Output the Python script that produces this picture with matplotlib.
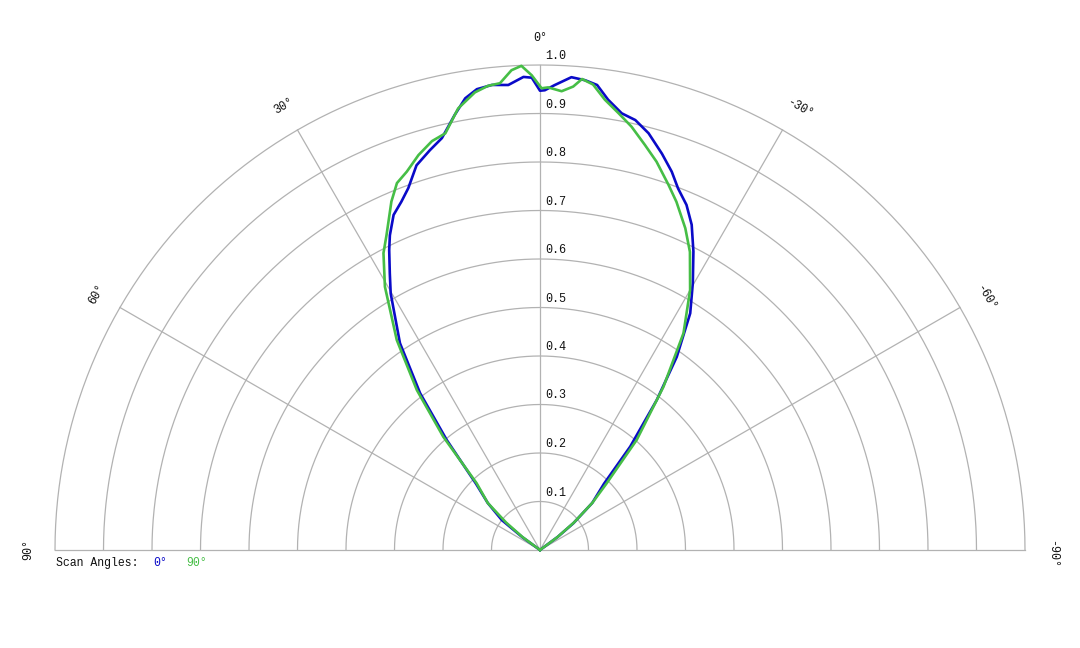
import numpy as np
import matplotlib
matplotlib.use("Agg")
import matplotlib.pyplot as plt

# beam profiles: angle (deg, + is left of 0) and relative intensity
blue_ang = [-56, -53.5, -51.3, -48, -44, -41.1, -37.9, -35.3, -32.4, -29.8, -27.2, -25.0,
            -23.0, -20.9, -19.2, -17.1, -14.6, -12.5, -10.6, -8.6, -7.0, -5.5, -3.8, -1.8,
            -0.6, 0, 1.0, 2.0, 3.9, 5.9, 7.8, 9.4, 11.1, 13.4, 15.4, 17.8, 20.0, 21.7,
            23.6, 25.5, 26.7, 28.5, 30.2, 34.1, 37.4, 40.3, 44.0, 48.0, 51.9, 54, 56]
blue_val = [0.0, 0.045, 0.088, 0.145, 0.19, 0.283, 0.392, 0.488, 0.578, 0.634, 0.692, 0.740,
            0.773, 0.798, 0.826, 0.855, 0.888, 0.908, 0.916, 0.939, 0.966, 0.973, 0.977, 0.959,
            0.948, 0.947, 0.974, 0.976, 0.961, 0.964, 0.959, 0.944, 0.914, 0.873, 0.855, 0.833,
            0.794, 0.773, 0.754, 0.719, 0.692, 0.649, 0.612, 0.515, 0.407, 0.297, 0.19, 0.145,
            0.10, 0.045, 0.0]

green_ang = [-56, -53.5, -51, -48, -45, -41.3, -37.1, -33.5, -30, -26.7, -24.3, -21.4,
             -19.4, -16.7, -14.5, -12.2, -10.2, -8.2, -6.5, -5.1, -4.1, -2.7, -1.0, -0.2,
             1.0, 2.2, 3.4, 4.9, 6.4, 8.1, 10.5, 12.8, 14.8, 17.1, 19.4, 21.3, 23.1, 26.0,
             27.8, 30.5, 34.3, 37.6, 40.5, 43.5, 48, 51, 53.5, 56]
green_val = [0.0, 0.045, 0.09, 0.145, 0.194, 0.302, 0.422, 0.536, 0.619, 0.688, 0.728, 0.771,
             0.798, 0.836, 0.863, 0.893, 0.915, 0.938, 0.966, 0.975, 0.958, 0.947, 0.954, 0.952,
             0.979, 0.999, 0.991, 0.966, 0.963, 0.953, 0.926, 0.881, 0.872, 0.852, 0.827, 0.812,
             0.781, 0.722, 0.692, 0.630, 0.524, 0.416, 0.307, 0.19, 0.145, 0.09, 0.045, 0.0]

rings = [0.1, 0.2, 0.3, 0.4, 0.5, 0.6, 0.7, 0.8, 0.9, 1.0]
spokes = [-90, -60, -30, 0, 30, 60, 90]
angle_labels = ["-90°", "-60°", "-30°", "0°", "30°", "60°", "90°"]
series_names = ["0°", "90°"]
BLUE = "#0a0ac8"
GREEN = "#46be46"
GRID = "#b2b2b2"
TXT = "#111111"
FONT = "Liberation Mono"


def to_xy(ang, r):
    t = np.radians(np.asarray(ang, dtype=float))
    r = np.asarray(r, dtype=float)
    return -r * np.sin(t), r * np.cos(t)


fig = plt.figure(figsize=(10.8, 6.48), dpi=100)
ax = fig.add_axes([0, 0, 1, 1])
px = 485.0  # pixels per unit radius
ax.set_xlim(-540 / px, 540 / px)
ax.set_ylim((550 - 648) / px, 550 / px)
ax.axis("off")

# grid
arc = np.linspace(-90, 90, 361)
for r in rings:
    x, y = to_xy(arc, np.full_like(arc, r))
    ax.plot(x, y, color=GRID, lw=0.9, zorder=1)
for a in spokes:
    x, y = to_xy([a, a], [0, 1.0])
    ax.plot(x, y, color=GRID, lw=0.9, zorder=1)

# radial labels
for r in rings:
    ax.text(5 / px, r + 3 / px, f"{r:.1f}", ha="left", va="bottom",
            fontsize=8.5, family=FONT, color=TXT, zorder=3)

# angle labels (centred on the number, the minus sign hangs in front)
for a, lab in zip(spokes, angle_labels):
    x, y = to_xy(a, 1.056)
    if lab.startswith("-"):
        t = np.radians(a)
        x += 4.5 / px * np.cos(t)
        y += 4.5 / px * np.sin(t)
    ax.text(x, y, lab, ha="center", va="center", rotation=a, rotation_mode="anchor",
            fontsize=8.5, family=FONT, color=TXT)

# curves
x, y = to_xy(blue_ang, blue_val)
ax.plot(x, y, color=BLUE, lw=1.9, zorder=4)
x, y = to_xy(green_ang, green_val)
ax.plot(x, y, color=GREEN, lw=1.9, zorder=5)

# legend
ly = (550 - 563) / px
ax.text((56 - 540) / px, ly, "Scan Angles:", ha="left", va="center",
        fontsize=8.3, family=FONT, color=TXT)
ax.text((153 - 540) / px, ly, series_names[0], ha="left", va="center",
        fontsize=8.3, family=FONT, color=BLUE)
ax.text((186 - 540) / px, ly, series_names[1], ha="left", va="center",
        fontsize=8.3, family=FONT, color=GREEN)

fig.savefig("out.png", dpi=100, facecolor="white")
